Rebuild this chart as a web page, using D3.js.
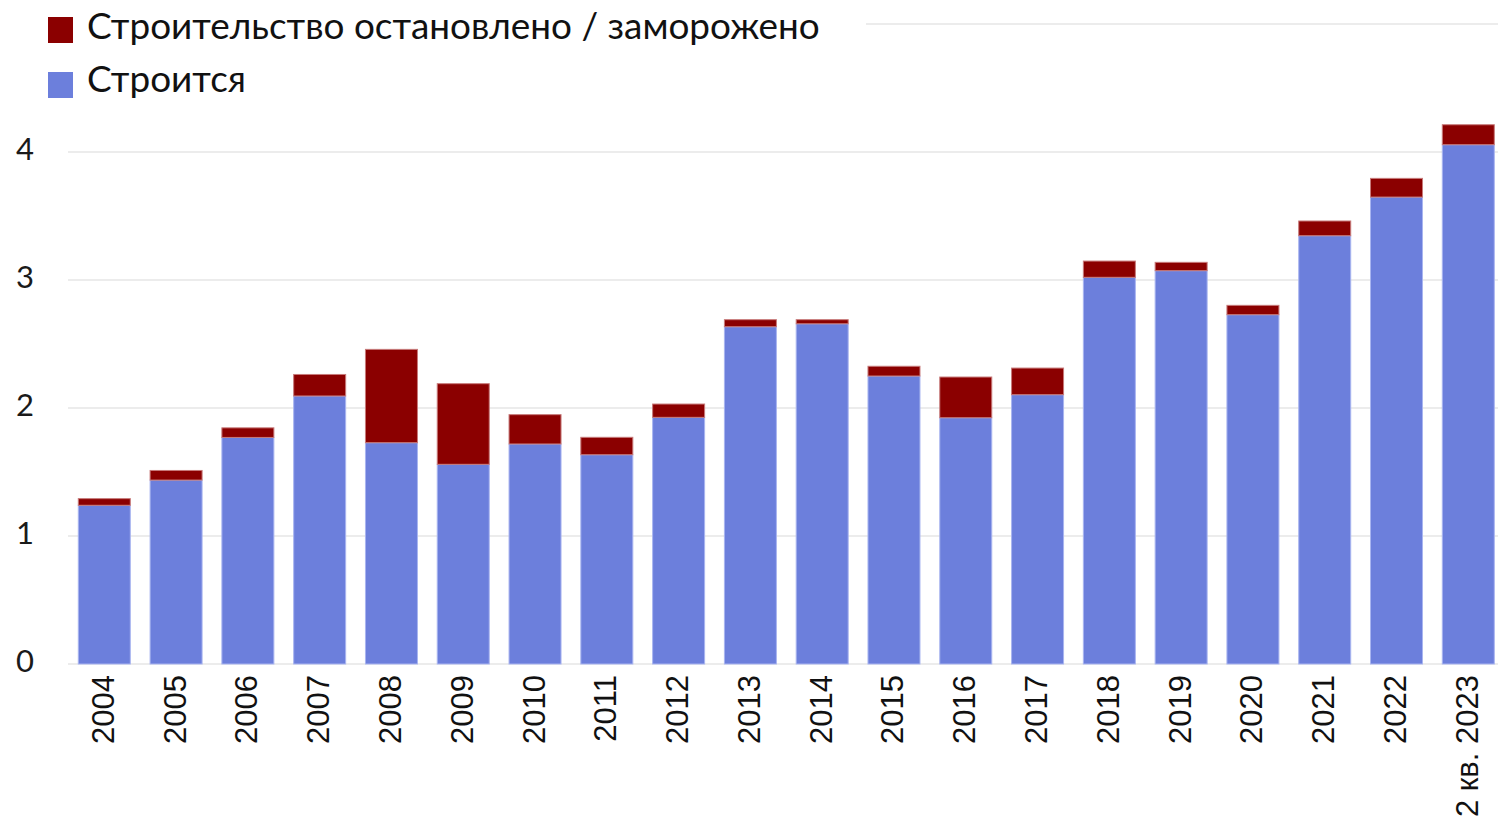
<!DOCTYPE html>
<html>
<head>
<meta charset="utf-8">
<script src="https://cdn.jsdelivr.net/npm/d3@7"></script>
<style>
  html, body { margin: 0; padding: 0; background: #fff; }
  svg { display: block; }
</style>
</head>
<body>
<svg id="chart" width="1498" height="817"></svg>
<script>
const categories = ["2004","2005","2006","2007","2008","2009","2010","2011","2012","2013","2014","2015","2016","2017","2018","2019","2020","2021","2022","2 кв. 2023"];
const building = [1.24,1.437,1.77,2.094,1.729,1.56,1.719,1.635,1.927,2.635,2.658,2.25,1.924,2.104,3.021,3.073,2.729,3.346,3.648,4.057];
const frozen   = [0.052,0.075,0.075,0.168,0.729,0.63,0.229,0.136,0.104,0.055,0.032,0.076,0.318,0.208,0.127,0.065,0.073,0.115,0.146,0.156];
const yTicks = [0,1,2,3,4];
const seriesNames = ["Строится","Строительство остановлено / заморожено"];
const colors = {"building":"#6c7fdc","frozen":"#8b0000"};

const svg = d3.select("#chart");
const W = 1498, H = 817;

const x = d3.scaleBand().domain(categories).range([78.3, 1494.3]).paddingInner(0.2757).paddingOuter(0);
const y = d3.scaleLinear().domain([0, 5]).range([664, 24]);

// gridlines
svg.append("g").selectAll("line").data([0,1,2,3,4,5]).join("line")
  .attr("x1", 68).attr("x2", W)
  .attr("y1", d => y(d)).attr("y2", d => y(d))
  .attr("stroke", "#e6e6e6").attr("stroke-width", 1.5);

// stacked data
const rows = categories.map((c, i) => ({cat: c, building: building[i], frozen: frozen[i]}));
const stack = d3.stack().keys(["building","frozen"])(rows);

svg.append("g").selectAll("g").data(stack).join("g")
  .attr("fill", d => colors[d.key])
  .attr("stroke", d => d.key === "building" ? "#a9b5f0" : "#c77a7a")
  .attr("stroke-width", 1)
  .selectAll("rect").data(d => d).join("rect")
  .attr("x", d => x(d.data.cat))
  .attr("width", x.bandwidth())
  .attr("y", d => y(d[1]))
  .attr("height", d => y(d[0]) - y(d[1]));

// y axis
const yAxis = svg.append("g").attr("transform", "translate(34,0)")
  .call(d3.axisLeft(y).tickValues(yTicks).tickSize(0).tickPadding(0).tickFormat(d3.format("d")));
yAxis.select(".domain").remove();
yAxis.selectAll("text")
  .attr("font-family", "Lato, 'Noto Sans', sans-serif")
  .attr("font-size", 31)
  .attr("fill", "#1a1a1a")
  .attr("dy", "0.24em")
  .attr("x", 0);

// x axis
const xAxis = svg.append("g").attr("transform", "translate(0,664)")
  .call(d3.axisBottom(x).tickSize(0).tickPadding(0));
xAxis.select(".domain").remove();
xAxis.selectAll("text")
  .attr("font-family", "'Liberation Sans', Arial, sans-serif")
  .attr("font-size", 31)
  .attr("fill", "#111")
  .attr("text-anchor", "end")
  .attr("dy", 0)
  .attr("y", 0)
  .attr("transform", "translate(9.5,11) rotate(-90)")
  .attr("dominant-baseline", "auto");

// legend
const legend = svg.append("g");
legend.append("rect").attr("x", 0).attr("y", 0).attr("width", 866).attr("height", 50).attr("fill", "#fff");
const legItems = [
  {name: seriesNames[1], color: colors.frozen, y: 17, ty: 39},
  {name: seriesNames[0], color: colors.building, y: 72, ty: 92}
];
legItems.forEach(it => {
  legend.append("rect").attr("x", 48).attr("y", it.y).attr("width", 25).attr("height", 26).attr("fill", it.color);
  legend.append("text").attr("x", 87).attr("y", it.ty)
    .attr("font-family", "Lato, 'Noto Sans', sans-serif")
    .attr("font-size", 34)
    .attr("fill", "#111")
    .text(it.name);
});
// fit legend font size to reference width
const t0 = legend.selectAll("text").nodes()[0];
const w0 = t0.getComputedTextLength();
const fs = 34 * 733 / w0;
legend.selectAll("text").attr("font-size", fs);
</script>
</body>
</html>
